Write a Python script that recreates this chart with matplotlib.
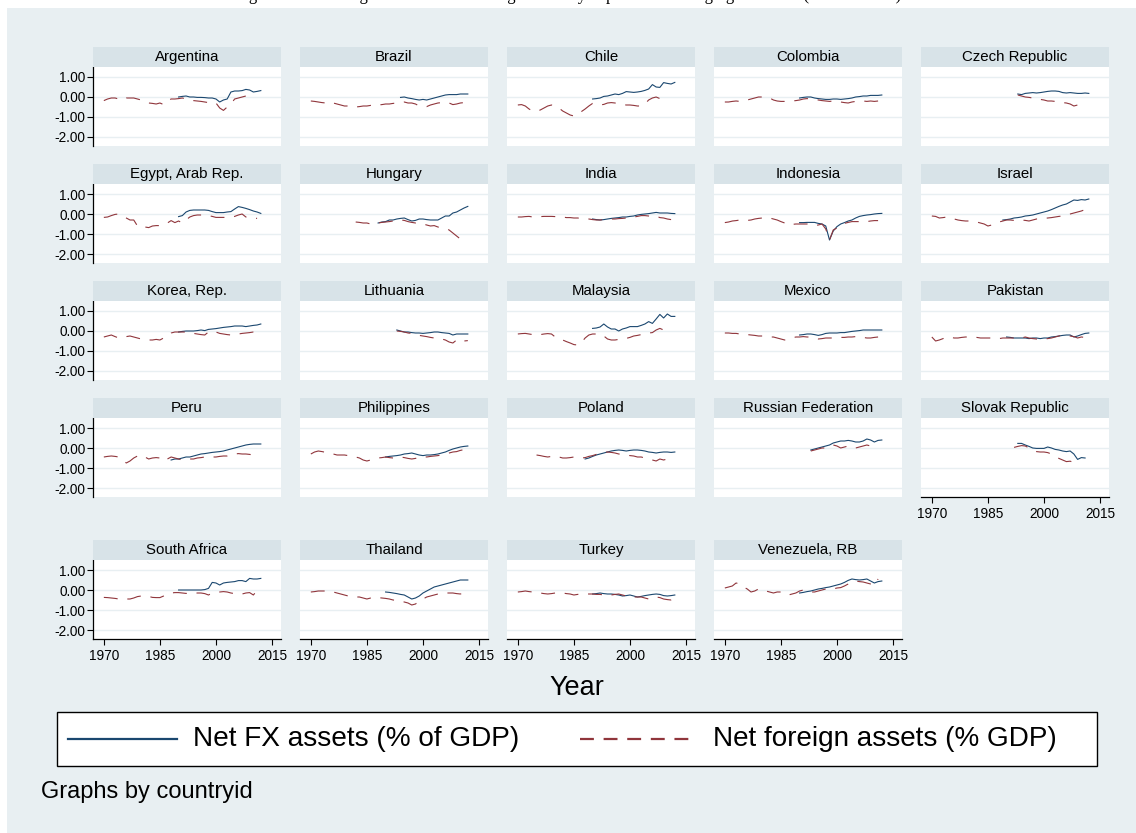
import matplotlib
matplotlib.use("Agg")
import matplotlib.pyplot as plt
from matplotlib.patches import Rectangle
from matplotlib.lines import Line2D

# ---------------- data ----------------
countries = ["Argentina", "Brazil", "Chile", "Colombia", "Czech Republic",
             "Egypt, Arab Rep.", "Hungary", "India", "Indonesia", "Israel",
             "Korea, Rep.", "Lithuania", "Malaysia", "Mexico", "Pakistan",
             "Peru", "Philippines", "Poland", "Russian Federation", "Slovak Republic",
             "South Africa", "Thailand", "Turkey", "Venezuela, RB"]

# first year of each series (same order as countries)
nfa_start = [1970, 1970, 1970, 1970, 1993, 1970, 1982, 1970, 1970, 1970,
             1970, 1993, 1970, 1970, 1970, 1970, 1970, 1975, 1993, 1992,
             1970, 1970, 1970, 1970]
fx_start = [1990, 1994, 1990, 1990, 1993, 1990, 1988, 1990, 1990, 1989,
            1990, 1993, 1990, 1990, 1990, 1988, 1990, 1988, 1993, 1993,
            1990, 1990, 1990, 1990]

# Net foreign assets (% GDP), annual
nfa_argentina = [-0.18,-0.10,-0.05,-0.05,-0.10,-0.15,-0.05,-0.05,-0.05,-0.10,-0.15,-0.25,-0.30,-0.32,-0.35,-0.30,-0.38,-0.20,-0.10,-0.10,-0.08,-0.05,-0.10,-0.15,-0.18,-0.20,-0.22,-0.25,-0.28,-0.30,-0.30,-0.55,-0.67,-0.50,-0.35,-0.10,-0.05,0.00,0.05,0.08,0.05]
nfa_brazil = [-0.20,-0.22,-0.25,-0.28,-0.30,-0.35,-0.30,-0.35,-0.40,-0.45,-0.45,-0.50,-0.50,-0.48,-0.45,-0.45,-0.42,-0.45,-0.40,-0.38,-0.35,-0.35,-0.32,-0.30,-0.28,-0.25,-0.30,-0.30,-0.35,-0.45,-0.45,-0.48,-0.40,-0.35,-0.30,-0.28,-0.25,-0.30,-0.38,-0.35,-0.30,-0.28]
nfa_chile = [-0.40,-0.38,-0.45,-0.60,-0.70,-0.72,-0.65,-0.55,-0.45,-0.40,-0.45,-0.55,-0.70,-0.80,-0.90,-0.95,-0.85,-0.73,-0.60,-0.45,-0.32,-0.35,-0.40,-0.37,-0.30,-0.28,-0.30,-0.35,-0.38,-0.40,-0.40,-0.42,-0.45,-0.45,-0.35,-0.15,-0.05,0.00,-0.08,-0.15,-0.15]
nfa_colombia = [-0.25,-0.25,-0.22,-0.20,-0.22,-0.18,-0.15,-0.10,-0.05,0.00,0.00,-0.02,-0.05,-0.15,-0.20,-0.22,-0.22,-0.20,-0.20,-0.18,-0.15,-0.10,-0.08,-0.10,-0.12,-0.15,-0.18,-0.20,-0.22,-0.20,-0.20,-0.25,-0.28,-0.30,-0.25,-0.22,-0.20,-0.20,-0.22,-0.20,-0.22,-0.20]
nfa_czech = [0.10,0.05,0.00,-0.02,-0.05,-0.10,-0.12,-0.15,-0.20,-0.20,-0.22,-0.25,-0.28,-0.30,-0.35,-0.45,-0.40,-0.50,-0.48]
nfa_egypt = [-0.17,-0.15,-0.08,-0.02,0.00,-0.10,-0.20,-0.30,-0.30,-0.60,-0.68,-0.65,-0.68,-0.60,-0.58,-0.58,-0.55,-0.45,-0.33,-0.43,-0.35,-0.45,-0.30,-0.15,-0.08,-0.05,-0.05,-0.05,-0.08,-0.12,-0.17,-0.17,-0.17,-0.17,-0.17,-0.12,-0.05,0.00,-0.15,-0.20,-0.20,-0.22]
nfa_hungary = [-0.40,-0.42,-0.45,-0.45,-0.50,-0.50,-0.45,-0.42,-0.40,-0.38,-0.35,-0.35,-0.30,-0.32,-0.38,-0.42,-0.45,-0.45,-0.50,-0.55,-0.60,-0.58,-0.65,-0.70,-0.72,-0.80,-0.95,-1.10,-1.25,-0.95]
nfa_india = [-0.15,-0.15,-0.13,-0.12,-0.15,-0.15,-0.13,-0.12,-0.12,-0.12,-0.13,-0.15,-0.15,-0.18,-0.18,-0.20,-0.20,-0.22,-0.22,-0.25,-0.28,-0.30,-0.30,-0.28,-0.25,-0.25,-0.25,-0.23,-0.22,-0.20,-0.20,-0.15,-0.12,-0.08,-0.08,-0.10,-0.12,-0.10,-0.18,-0.20,-0.25,-0.28]
nfa_indonesia = [-0.43,-0.40,-0.35,-0.33,-0.30,-0.30,-0.32,-0.30,-0.25,-0.22,-0.20,-0.17,-0.20,-0.25,-0.30,-0.38,-0.45,-0.55,-0.52,-0.50,-0.50,-0.50,-0.50,-0.55,-0.58,-0.55,-0.50,-0.75,-1.30,-0.80,-0.70,-0.60,-0.47,-0.42,-0.38,-0.38,-0.38,-0.38,-0.38,-0.35,-0.33,-0.33]
nfa_israel = [-0.10,-0.12,-0.20,-0.18,-0.15,-0.20,-0.25,-0.30,-0.33,-0.35,-0.35,-0.38,-0.40,-0.45,-0.50,-0.60,-0.55,-0.45,-0.40,-0.35,-0.30,-0.30,-0.32,-0.30,-0.30,-0.32,-0.35,-0.30,-0.25,-0.25,-0.22,-0.20,-0.18,-0.15,-0.12,-0.10,-0.05,0.00,0.05,0.10,0.15,0.22]
nfa_korea = [-0.30,-0.25,-0.20,-0.28,-0.35,-0.32,-0.28,-0.25,-0.30,-0.35,-0.40,-0.42,-0.45,-0.45,-0.42,-0.45,-0.35,-0.25,-0.10,-0.05,-0.05,-0.05,-0.05,-0.10,-0.12,-0.15,-0.18,-0.20,-0.05,0.00,-0.05,-0.12,-0.15,-0.18,-0.20,-0.20,-0.15,-0.12,-0.10,-0.08,-0.05,-0.05]
nfa_lithuania = [0.00,-0.02,-0.05,-0.10,-0.12,-0.18,-0.22,-0.25,-0.28,-0.32,-0.35,-0.38,-0.40,-0.45,-0.55,-0.60,-0.45,-0.40,-0.50,-0.48]
nfa_malaysia = [-0.15,-0.13,-0.12,-0.15,-0.18,-0.20,-0.18,-0.15,-0.13,-0.15,-0.30,-0.37,-0.45,-0.53,-0.60,-0.68,-0.70,-0.58,-0.35,-0.20,-0.15,-0.15,-0.15,-0.25,-0.40,-0.45,-0.45,-0.42,-0.40,-0.37,-0.32,-0.25,-0.22,-0.18,-0.15,-0.10,-0.08,0.05,0.13,0.05,-0.03,0.05]
nfa_mexico = [-0.10,-0.10,-0.12,-0.12,-0.15,-0.15,-0.18,-0.20,-0.22,-0.25,-0.25,-0.28,-0.30,-0.30,-0.35,-0.40,-0.45,-0.40,-0.35,-0.30,-0.30,-0.28,-0.30,-0.30,-0.35,-0.40,-0.38,-0.35,-0.35,-0.35,-0.35,-0.32,-0.32,-0.30,-0.30,-0.28,-0.30,-0.32,-0.35,-0.35,-0.32,-0.30]
nfa_pakistan = [-0.30,-0.50,-0.45,-0.38,-0.30,-0.32,-0.35,-0.35,-0.32,-0.30,-0.30,-0.30,-0.32,-0.35,-0.35,-0.35,-0.35,-0.38,-0.38,-0.35,-0.35,-0.35,-0.35,-0.38,-0.35,-0.30,-0.35,-0.38,-0.40,-0.42,-0.40,-0.38,-0.35,-0.30,-0.25,-0.20,-0.20,-0.25,-0.28,-0.35,-0.30,-0.32]
nfa_peru = [-0.45,-0.42,-0.40,-0.42,-0.45,-0.60,-0.75,-0.65,-0.50,-0.40,-0.35,-0.45,-0.55,-0.50,-0.48,-0.50,-0.65,-0.55,-0.45,-0.50,-0.55,-0.60,-0.58,-0.55,-0.55,-0.50,-0.48,-0.45,-0.45,-0.45,-0.45,-0.42,-0.40,-0.40,-0.35,-0.30,-0.28,-0.30,-0.30,-0.32,-0.35,-0.30]
nfa_philippines = [-0.30,-0.20,-0.15,-0.18,-0.22,-0.25,-0.30,-0.35,-0.35,-0.35,-0.38,-0.42,-0.45,-0.50,-0.60,-0.65,-0.60,-0.55,-0.50,-0.48,-0.45,-0.48,-0.50,-0.48,-0.45,-0.48,-0.52,-0.55,-0.52,-0.45,-0.42,-0.45,-0.42,-0.40,-0.38,-0.35,-0.30,-0.25,-0.20,-0.18,-0.12,-0.08]
nfa_poland = [-0.35,-0.38,-0.42,-0.45,-0.42,-0.40,-0.45,-0.50,-0.50,-0.48,-0.45,-0.48,-0.50,-0.48,-0.42,-0.38,-0.32,-0.28,-0.22,-0.20,-0.22,-0.25,-0.30,-0.32,-0.35,-0.38,-0.40,-0.45,-0.45,-0.50,-0.55,-0.60,-0.65,-0.55,-0.60,-0.55,-0.58]
nfa_russia = [-0.15,-0.10,-0.05,0.00,0.00,0.05,0.15,0.10,0.00,0.05,0.10,0.05,0.00,0.05,0.10,0.15,0.10,0.05,0.05]
nfa_slovakia = [0.03,0.08,0.12,0.10,0.00,-0.10,-0.18,-0.20,-0.20,-0.23,-0.30,-0.42,-0.52,-0.60,-0.68,-0.66,-0.72,-0.80]
nfa_south_africa = [-0.37,-0.38,-0.40,-0.42,-0.45,-0.47,-0.45,-0.45,-0.40,-0.33,-0.30,-0.30,-0.32,-0.37,-0.38,-0.38,-0.30,-0.20,-0.15,-0.13,-0.13,-0.15,-0.17,-0.17,-0.17,-0.15,-0.15,-0.18,-0.25,-0.15,-0.12,-0.10,-0.08,-0.10,-0.15,-0.18,-0.22,-0.20,-0.15,-0.13,-0.25,-0.03]
nfa_thailand = [-0.10,-0.08,-0.05,-0.05,-0.05,-0.08,-0.10,-0.15,-0.20,-0.25,-0.30,-0.32,-0.35,-0.35,-0.40,-0.45,-0.40,-0.35,-0.38,-0.40,-0.42,-0.45,-0.50,-0.52,-0.55,-0.60,-0.65,-0.75,-0.70,-0.55,-0.45,-0.35,-0.30,-0.25,-0.20,-0.20,-0.15,-0.15,-0.15,-0.18,-0.20,-0.15,-0.10]
nfa_turkey = [-0.10,-0.08,-0.05,-0.08,-0.10,-0.12,-0.15,-0.18,-0.20,-0.18,-0.15,-0.15,-0.15,-0.18,-0.20,-0.25,-0.22,-0.20,-0.20,-0.20,-0.20,-0.22,-0.22,-0.25,-0.28,-0.25,-0.22,-0.20,-0.25,-0.30,-0.30,-0.35,-0.35,-0.35,-0.40,-0.45,-0.42,-0.35,-0.38,-0.45,-0.48,-0.50,-0.45]
nfa_venezuela = [0.10,0.15,0.20,0.35,0.30,0.15,0.05,-0.10,-0.05,0.05,0.00,-0.05,-0.10,-0.15,-0.10,-0.10,-0.20,-0.25,-0.20,-0.15,-0.05,0.00,-0.05,-0.10,-0.10,-0.05,0.00,0.05,0.02,0.05,0.10,0.12,0.20,0.30,0.38,0.45,0.42,0.40,0.35,0.30,0.25,0.55]

# Net FX assets (% of GDP), annual
fx_argentina = [0.00,0.03,0.05,0.00,0.00,-0.02,-0.02,-0.03,-0.05,-0.05,-0.10,-0.25,-0.15,-0.10,0.25,0.30,0.30,0.32,0.38,0.35,0.25,0.28,0.32]
fx_brazil = [-0.02,0.00,-0.05,-0.08,-0.12,-0.15,-0.12,-0.15,-0.10,-0.05,0.00,0.05,0.10,0.12,0.12,0.12,0.15,0.15,0.15]
fx_chile = [-0.10,-0.08,-0.05,0.03,0.05,0.10,0.15,0.12,0.18,0.27,0.25,0.23,0.25,0.28,0.33,0.40,0.62,0.50,0.48,0.72,0.68,0.65,0.73]
fx_colombia = [-0.05,-0.02,0.00,0.00,-0.05,-0.08,-0.10,-0.12,-0.12,-0.10,-0.10,-0.12,-0.10,-0.08,-0.05,0.00,0.02,0.05,0.05,0.08,0.08,0.08,0.10]
fx_czech = [0.15,0.12,0.18,0.20,0.22,0.20,0.22,0.25,0.28,0.30,0.30,0.28,0.22,0.20,0.22,0.20,0.18,0.18,0.20,0.18]
fx_egypt = [-0.13,-0.08,0.10,0.18,0.20,0.20,0.20,0.20,0.18,0.12,0.07,0.07,0.07,0.10,0.12,0.25,0.37,0.33,0.28,0.22,0.15,0.10,0.03]
fx_hungary = [-0.45,-0.40,-0.38,-0.30,-0.30,-0.25,-0.22,-0.20,-0.28,-0.35,-0.32,-0.25,-0.25,-0.28,-0.30,-0.30,-0.30,-0.20,-0.10,-0.10,0.05,0.10,0.20,0.30,0.38]
fx_india = [-0.25,-0.28,-0.30,-0.28,-0.25,-0.22,-0.20,-0.18,-0.15,-0.15,-0.12,-0.10,-0.05,-0.02,0.00,0.02,0.05,0.08,0.05,0.05,0.05,0.03,0.02]
fx_indonesia = [-0.43,-0.43,-0.42,-0.42,-0.42,-0.47,-0.50,-0.60,-1.30,-0.85,-0.63,-0.50,-0.43,-0.35,-0.30,-0.20,-0.12,-0.08,-0.05,-0.03,0.00,0.02,0.03]
fx_israel = [-0.30,-0.28,-0.25,-0.20,-0.18,-0.15,-0.10,-0.08,-0.05,0.00,0.05,0.10,0.15,0.22,0.30,0.38,0.45,0.50,0.60,0.70,0.68,0.72,0.70,0.75]
fx_korea = [-0.05,-0.02,0.00,0.00,0.00,0.02,0.05,0.02,0.08,0.10,0.12,0.15,0.18,0.20,0.22,0.25,0.25,0.25,0.22,0.25,0.28,0.30,0.35]
fx_lithuania = [0.05,0.00,-0.05,-0.05,-0.08,-0.10,-0.10,-0.12,-0.10,-0.08,-0.05,-0.05,-0.08,-0.10,-0.12,-0.20,-0.15,-0.15,-0.15,-0.15]
fx_malaysia = [0.13,0.15,0.20,0.35,0.20,0.10,0.10,0.00,0.10,0.15,0.22,0.22,0.22,0.28,0.35,0.47,0.38,0.60,0.83,0.65,0.85,0.73,0.73]
fx_mexico = [-0.20,-0.18,-0.15,-0.15,-0.18,-0.22,-0.18,-0.12,-0.10,-0.10,-0.10,-0.08,-0.08,-0.05,-0.02,0.00,0.02,0.05,0.05,0.05,0.05,0.05,0.05]
fx_pakistan = [-0.30,-0.32,-0.35,-0.35,-0.35,-0.35,-0.38,-0.35,-0.35,-0.38,-0.35,-0.35,-0.30,-0.28,-0.25,-0.22,-0.20,-0.20,-0.30,-0.25,-0.18,-0.12,-0.10]
fx_peru = [-0.60,-0.55,-0.55,-0.50,-0.45,-0.45,-0.40,-0.35,-0.30,-0.28,-0.25,-0.22,-0.20,-0.18,-0.15,-0.10,-0.05,0.00,0.05,0.10,0.15,0.18,0.20,0.20,0.20]
fx_philippines = [-0.45,-0.42,-0.40,-0.38,-0.35,-0.30,-0.28,-0.25,-0.30,-0.35,-0.38,-0.35,-0.35,-0.33,-0.30,-0.25,-0.20,-0.12,-0.05,0.00,0.05,0.08,0.10]
fx_poland = [-0.55,-0.50,-0.42,-0.35,-0.30,-0.25,-0.20,-0.15,-0.12,-0.10,-0.12,-0.15,-0.12,-0.10,-0.10,-0.12,-0.15,-0.20,-0.22,-0.25,-0.22,-0.20,-0.20,-0.22,-0.20]
fx_russia = [-0.10,-0.05,0.00,0.05,0.10,0.15,0.25,0.30,0.35,0.35,0.38,0.35,0.30,0.30,0.35,0.45,0.40,0.30,0.38,0.40]
fx_slovakia = [0.23,0.23,0.15,0.08,0.00,-0.02,-0.02,-0.02,0.05,0.00,-0.07,-0.10,-0.15,-0.18,-0.15,-0.30,-0.57,-0.48,-0.50]
fx_south_africa = [0.00,0.00,0.00,0.00,0.00,0.00,0.00,0.02,0.08,0.38,0.35,0.25,0.35,0.38,0.40,0.42,0.47,0.47,0.42,0.58,0.55,0.55,0.58]
fx_thailand = [-0.10,-0.12,-0.15,-0.18,-0.22,-0.25,-0.35,-0.45,-0.40,-0.30,-0.15,-0.05,0.05,0.15,0.20,0.25,0.30,0.35,0.40,0.45,0.50,0.50,0.50]
fx_turkey = [-0.20,-0.18,-0.15,-0.18,-0.20,-0.20,-0.22,-0.25,-0.30,-0.28,-0.25,-0.30,-0.35,-0.32,-0.28,-0.25,-0.22,-0.20,-0.22,-0.28,-0.30,-0.28,-0.25]
fx_venezuela = [-0.15,-0.12,-0.08,-0.05,0.00,0.05,0.08,0.12,0.15,0.20,0.25,0.30,0.38,0.48,0.55,0.52,0.50,0.52,0.55,0.45,0.35,0.42,0.45]

nfa_series = [nfa_argentina, nfa_brazil, nfa_chile, nfa_colombia, nfa_czech,
              nfa_egypt, nfa_hungary, nfa_india, nfa_indonesia, nfa_israel,
              nfa_korea, nfa_lithuania, nfa_malaysia, nfa_mexico, nfa_pakistan,
              nfa_peru, nfa_philippines, nfa_poland, nfa_russia, nfa_slovakia,
              nfa_south_africa, nfa_thailand, nfa_turkey, nfa_venezuela]
fx_series = [fx_argentina, fx_brazil, fx_chile, fx_colombia, fx_czech,
             fx_egypt, fx_hungary, fx_india, fx_indonesia, fx_israel,
             fx_korea, fx_lithuania, fx_malaysia, fx_mexico, fx_pakistan,
             fx_peru, fx_philippines, fx_poland, fx_russia, fx_slovakia,
             fx_south_africa, fx_thailand, fx_turkey, fx_venezuela]

x_ticks = [1970, 1985, 2000, 2015]
y_ticks = [1, 0, -1, -2]
y_tick_labels = ["1.00", "0.00", "-1.00", "-2.00"]
legend_labels = ["Net FX assets (% of GDP)", "Net foreign assets (% GDP)"]

# ---------------- style ----------------
W, H = 1136, 833
BG = "#E8EFF2"
STRIP = "#D8E3E8"
GRID = "#E8EFF2"
BLUE = "#1A476F"
RED = "#90353B"
SANS = ["Liberation Sans", "DejaVu Sans"]
plt.rcParams["font.family"] = SANS
plt.rcParams["lines.scale_dashes"] = False

fig = plt.figure(figsize=(W / 100, H / 100), dpi=100, facecolor="white")


def box(x0, y0, w, h):
    return [x0 / W, 1 - (y0 + h) / H, w / W, h / H]


def fx_(x):
    return x / W


def fy_(y):
    return 1 - y / H


# chart background (page margin white at top/left)
fig.patches.append(Rectangle((fx_(7), 0), 1 - fx_(7), fy_(8), transform=fig.transFigure,
                             facecolor=BG, edgecolor="none", zorder=-10))

# caption of the source document, cut off by the top edge as in the reference
fig.text(fx_(568), fy_(-0.5),
         "Figure 4: Net foreign assets and net foreign currency exposure in emerging countries (in % of GDP)",
         ha="center", va="baseline", fontsize=12, family=["Liberation Serif", "DejaVu Serif"])

zero_y = [97, 214, 331, 448, 590]
col_left = [93, 300, 507, 714, 921]
PW = 188
PH = 79
YMIN, YMAX = -2.45, 1.5
XMIN, XMAX = 1967.1, 2017.4

for i, name in enumerate(countries):
    if i < 20:
        r, c = divmod(i, 5)
    else:
        r, c = 4, i - 20
    left = col_left[c]
    top = zero_y[r] - 30
    ax = fig.add_axes(box(left, top, PW, PH))
    hx = fig.add_axes(box(left, top - 20, PW, 20))
    hx.set_facecolor(STRIP)
    hx.set_xticks([])
    hx.set_yticks([])
    for s in hx.spines.values():
        s.set_visible(False)
    hx.text(0.5, 0.5, name, ha="center", va="center", fontsize=10.8, color="black",
            transform=hx.transAxes)

    ax.set_facecolor("white")
    ax.set_xlim(XMIN, XMAX)
    ax.set_ylim(YMIN, YMAX)
    ax.set_yticks(y_ticks)
    ax.set_xticks(x_ticks)
    ax.yaxis.grid(True, color=GRID, linewidth=1.0)
    ax.set_axisbelow(True)

    yrs_nfa = list(range(nfa_start[i], nfa_start[i] + len(nfa_series[i])))
    yrs_fx = list(range(fx_start[i], fx_start[i] + len(fx_series[i])))
    ax.plot(yrs_fx, fx_series[i], color=BLUE, linewidth=0.8, zorder=3)
    ax.plot(yrs_nfa, nfa_series[i], color=RED, linewidth=0.8, dashes=(10, 7), zorder=3)

    for s in ax.spines.values():
        s.set_visible(False)
    show_left = (c == 0)
    show_bottom = (r == 4) or (r == 3 and c == 4)
    if show_left:
        ax.spines["left"].set_visible(True)
        ax.spines["left"].set_linewidth(0.9)
        ax.set_yticklabels(y_tick_labels)
        ax.tick_params(axis="y", length=4, width=0.8, pad=1.5, labelsize=9.8, direction="out")
    else:
        ax.tick_params(axis="y", left=False, labelleft=False)
    if show_bottom:
        ax.spines["bottom"].set_visible(True)
        ax.spines["bottom"].set_linewidth(0.9)
        ax.tick_params(axis="x", length=4, width=0.8, pad=3, labelsize=9.8, direction="out")
    else:
        ax.tick_params(axis="x", bottom=False, labelbottom=False)

# x axis title
fig.text(fx_(577), fy_(688), "Year", ha="center", va="center", fontsize=19.5)

# legend
fig.patches.append(Rectangle((fx_(57), fy_(766)), fx_(1097 - 57), (766 - 712) / H,
                             transform=fig.transFigure, facecolor="white",
                             edgecolor="black", linewidth=1.0, zorder=1))
fig.lines.append(Line2D([fx_(68), fx_(177)], [fy_(739), fy_(739)], transform=fig.transFigure,
                        color=BLUE, linewidth=1.6, zorder=2))
fig.lines.append(Line2D([fx_(580), fx_(697)], [fy_(739), fy_(739)], transform=fig.transFigure,
                        color=RED, linewidth=1.6, dashes=(10, 7), zorder=2))
fig.text(fx_(193), fy_(739), legend_labels[0], ha="left", va="center", fontsize=20.2, zorder=3)
fig.text(fx_(713), fy_(739), legend_labels[1], ha="left", va="center", fontsize=20.1, zorder=3)

# note
fig.text(fx_(41), fy_(792), "Graphs by countryid", ha="left", va="center", fontsize=17)

fig.savefig("out.png", dpi=100, facecolor="white")
